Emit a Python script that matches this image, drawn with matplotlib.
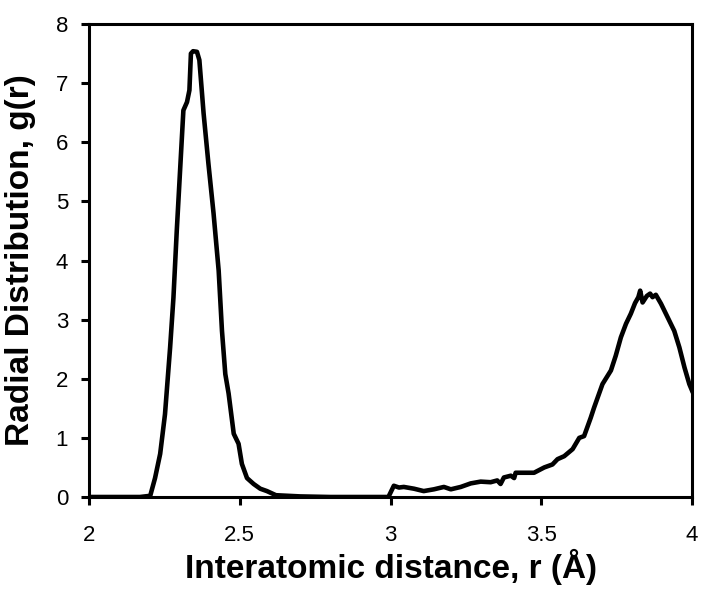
import matplotlib
matplotlib.use("Agg")
import matplotlib.pyplot as plt

r_values = [2.0, 2.1, 2.169, 2.203, 2.219, 2.236, 2.252, 2.269, 2.28, 2.291, 2.302, 2.313,
            2.325, 2.333, 2.338, 2.345, 2.358, 2.366, 2.38, 2.396, 2.413, 2.43, 2.441,
            2.452, 2.463, 2.48, 2.496, 2.507, 2.524, 2.546, 2.568, 2.59, 2.62, 2.7, 2.8,
            2.993, 3.011, 3.028, 3.044, 3.078, 3.11, 3.144, 3.177, 3.2, 3.233, 3.266,
            3.299, 3.332, 3.354, 3.365, 3.376, 3.399, 3.41, 3.415, 3.443, 3.476, 3.51,
            3.537, 3.554, 3.576, 3.604, 3.626, 3.642, 3.664, 3.675, 3.703, 3.731, 3.747,
            3.764, 3.781, 3.797, 3.811, 3.822, 3.828, 3.836, 3.85, 3.861, 3.869, 3.88,
            3.897, 3.919, 3.941, 3.958, 3.975, 3.991, 4.0]
g_values = [0.0, 0.0, 0.0, 0.02, 0.32, 0.73, 1.4, 2.53, 3.37, 4.5, 5.52, 6.54,
            6.68, 6.88, 7.5, 7.54, 7.53, 7.39, 6.49, 5.64, 4.8, 3.83, 2.81,
            2.08, 1.75, 1.07, 0.9, 0.56, 0.32, 0.22, 0.14, 0.1, 0.03, 0.01, 0.0,
            0.0, 0.19, 0.16, 0.17, 0.14, 0.10, 0.13, 0.17, 0.13, 0.17, 0.23,
            0.26, 0.25, 0.28, 0.22, 0.33, 0.36, 0.32, 0.41, 0.41, 0.41, 0.50,
            0.55, 0.64, 0.69, 0.81, 1.0, 1.03, 1.34, 1.51, 1.91, 2.14, 2.39,
            2.7, 2.93, 3.1, 3.28, 3.38, 3.49, 3.29, 3.4, 3.44, 3.38, 3.42,
            3.27, 3.04, 2.81, 2.53, 2.19, 1.91, 1.8]

x_ticks = [2, 2.5, 3, 3.5, 4]
x_tick_labels = ["2", "2.5", "3", "3.5", "4"]
y_ticks = [0, 1, 2, 3, 4, 5, 6, 7, 8]

plt.rcParams['font.family'] = ['Liberation Sans', 'DejaVu Sans']

fig = plt.figure(figsize=(7.02, 5.93), dpi=100)
ax = fig.add_axes([0.1268, 0.1619, 0.859, 0.7976])
ax.plot(r_values, g_values, color='black', linewidth=3.3, solid_joinstyle='round')
ax.set_xlim(2, 4)
ax.set_ylim(0, 8)
ax.set_xticks(x_ticks)
ax.set_xticklabels(x_tick_labels)
ax.set_yticks(y_ticks)
for s in ax.spines.values():
    s.set_linewidth(2.2)
ax.tick_params(direction='out', length=6, width=2.2, labelsize=16)
ax.tick_params(axis='x', pad=14)
ax.tick_params(axis='y', pad=9)
ax.set_xlabel('Interatomic distance, r (Å)', fontsize=24, fontweight='bold', labelpad=2)
ax.set_ylabel('Radial Distribution, g(r)', fontsize=24, fontweight='bold', labelpad=14)
fig.savefig('out.png', dpi=100)
